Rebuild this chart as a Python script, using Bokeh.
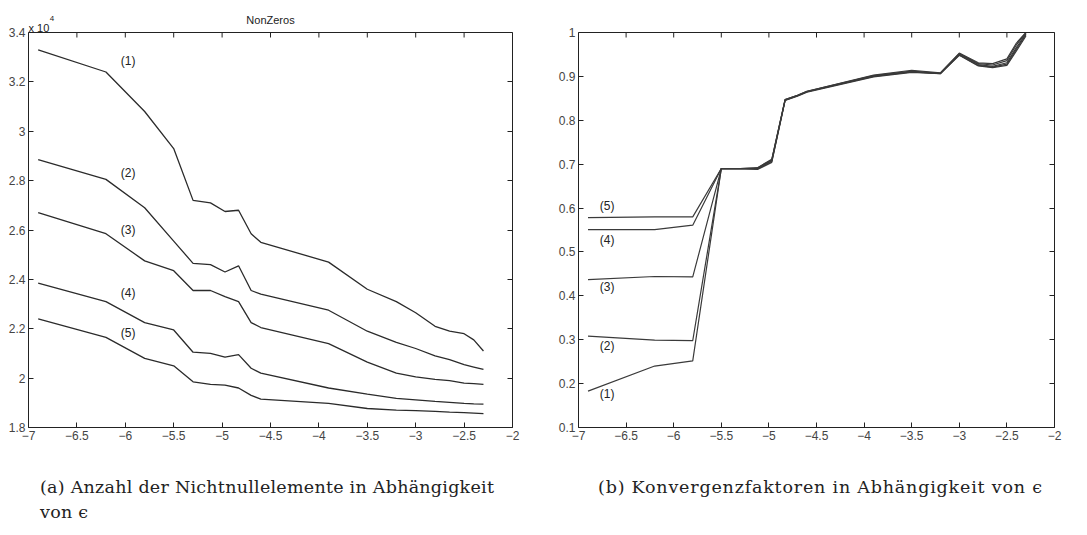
from bokeh.plotting import figure
from bokeh.models import FixedTicker, LinearAxis, Label, Div, Range1d, Span
from bokeh.layouts import row, column
from bokeh.embed import file_html
from bokeh.resources import INLINE

# ---------------- data ----------------
eps = [-6.9, -6.2, -5.8, -5.5, -5.3, -5.12, -4.97, -4.83, -4.7, -4.6,
       -3.9, -3.5, -3.2, -3.0, -2.8, -2.65, -2.5, -2.4, -2.3]

nnz_1 = [33300, 32400, 30800, 29300, 27200, 27100, 26750, 26800, 25850, 25500,
         24700, 23600, 23100, 22650, 22100, 21900, 21800, 21550, 21100]
nnz_2 = [28850, 28050, 26900, 25550, 24650, 24600, 24300, 24550, 23550, 23400,
         22750, 21900, 21450, 21200, 20900, 20750, 20550, 20450, 20350]
nnz_3 = [26700, 25850, 24750, 24350, 23550, 23550, 23300, 23100, 22250, 22050,
         21400, 20650, 20200, 20050, 19950, 19900, 19800, 19780, 19750]
nnz_4 = [23850, 23100, 22250, 21950, 21050, 21000, 20850, 20950, 20400, 20200,
         19600, 19350, 19180, 19120, 19060, 19020, 18980, 18960, 18950]
nnz_5 = [22400, 21650, 20800, 20500, 19850, 19750, 19720, 19600, 19300, 19150,
         18980, 18770, 18700, 18680, 18650, 18620, 18600, 18580, 18560]

conv_1 = [0.183, 0.240, 0.252, 0.690, 0.690, 0.688, 0.704, 0.845, 0.855, 0.864,
          0.899, 0.909, 0.906, 0.948, 0.924, 0.920, 0.925, 0.958, 0.992]
conv_2 = [0.308, 0.299, 0.298, 0.690, 0.690, 0.689, 0.706, 0.846, 0.856, 0.865,
          0.900, 0.910, 0.906, 0.949, 0.925, 0.921, 0.928, 0.962, 0.995]
conv_3 = [0.437, 0.444, 0.443, 0.690, 0.690, 0.690, 0.708, 0.846, 0.856, 0.865,
          0.901, 0.911, 0.907, 0.951, 0.927, 0.923, 0.931, 0.966, 0.997]
conv_4 = [0.551, 0.551, 0.561, 0.690, 0.690, 0.691, 0.710, 0.847, 0.857, 0.866,
          0.902, 0.912, 0.907, 0.952, 0.929, 0.926, 0.936, 0.972, 0.999]
conv_5 = [0.578, 0.580, 0.580, 0.690, 0.690, 0.692, 0.711, 0.847, 0.857, 0.866,
          0.903, 0.914, 0.908, 0.953, 0.931, 0.929, 0.940, 0.976, 1.000]

curve_names = ["(1)", "(2)", "(3)", "(4)", "(5)"]

x_ticks = [-7, -6.5, -6, -5.5, -5, -4.5, -4, -3.5, -3, -2.5, -2]
x_tick_labels = ["\u22127", "\u22126.5", "\u22126", "\u22125.5", "\u22125", "\u22124.5",
                 "\u22124", "\u22123.5", "\u22123", "\u22122.5", "\u22122"]
nnz_ticks = [18000, 20000, 22000, 24000, 26000, 28000, 30000, 32000, 34000]
nnz_tick_labels = ["1.8", "2", "2.2", "2.4", "2.6", "2.8", "3", "3.2", "3.4"]
conv_ticks = [0.1, 0.2, 0.3, 0.4, 0.5, 0.6, 0.7, 0.8, 0.9, 1.0]
conv_tick_labels = ["0.1", "0.2", "0.3", "0.4", "0.5", "0.6", "0.7", "0.8", "0.9", "1"]

# ---------------- styling / layout constants ----------------
LINE = "#2b2b2b"
AX = "#222222"
FONT = "Liberation Sans"
BOX_H = 395        # px height of the axes box
HEAD = 23          # px of frame kept above the box (room for the title texts)
TICK = 5           # inward tick length, px
X0, X1 = -7, -2


def build(width, border_left, border_right, y0, y1, yticks, ylabels):
    per_px = (y1 - y0) / BOX_H
    p = figure(width=width, height=455, output_backend="svg", toolbar_location=None,
               x_range=Range1d(X0, X1), y_range=Range1d(y0, y1 + HEAD * per_px),
               min_border_left=border_left, min_border_right=border_right,
               min_border_top=9, min_border_bottom=28)
    p.xaxis.ticker = FixedTicker(ticks=x_ticks)
    p.xaxis.major_label_overrides = dict(zip(x_ticks, x_tick_labels))
    p.yaxis.ticker = FixedTicker(ticks=yticks)
    p.yaxis.major_label_overrides = dict(zip(yticks, ylabels))
    p.yaxis.bounds = (y0, y1)
    right = LinearAxis(ticker=FixedTicker(ticks=yticks), bounds=(y0, y1),
                       major_label_text_color=None, major_label_text_font_size="1px",
                       major_label_standoff=0)
    p.add_layout(right, "right")
    for ax in p.xaxis + p.yaxis:
        ax.major_tick_in = TICK
        ax.major_tick_out = 0
        ax.minor_tick_line_color = None
        ax.axis_line_color = AX
        ax.major_tick_line_color = AX
        ax.major_label_text_font = FONT
        ax.major_label_text_font_size = "12px"
        ax.major_label_standoff = 3
    right.major_label_text_font_size = "1px"
    right.major_label_text_color = None
    right.major_label_standoff = 0
    # top edge of the box with inward ticks
    p.add_layout(Span(location=y1, dimension="width", line_color=AX, line_width=1))
    p.segment(x0=x_ticks, x1=x_ticks, y0=[y1] * len(x_ticks),
              y1=[y1 - TICK * per_px] * len(x_ticks), line_color=AX, line_width=1)
    p.grid.visible = False
    p.outline_line_color = None
    p.background_fill_color = "white"
    p.border_fill_color = "white"
    return p, per_px


# ---------------- left figure ----------------
pa, ka = build(533, 28, 21, 18000, 34000, nnz_ticks, nnz_tick_labels)
for ys in [nnz_1, nnz_2, nnz_3, nnz_4, nnz_5]:
    pa.line(eps, ys, line_color=LINE, line_width=1.3)

label_y_a = [32850, 28300, 25980, 23460, 21830]
for name, ly in zip(curve_names, label_y_a):
    pa.add_layout(Label(x=-5.97, y=ly, text=name, text_align="center",
                        text_baseline="middle", text_font=FONT,
                        text_font_size="12px", text_color="#222222"))

pa.add_layout(Label(x=-4.5, y=34000 + 13 * ka, text="NonZeros", text_align="center",
                    text_baseline="middle", text_font=FONT, text_font_size="11px",
                    text_color="#222222"))
pa.add_layout(Label(x=-7.0, y=34000 + 5 * ka, text="x 10", text_align="left",
                    text_baseline="middle", text_font=FONT, text_font_size="11px",
                    text_color="#222222"))
pa.add_layout(Label(x=-6.78, y=34000 + 14 * ka, text="4", text_align="left",
                    text_baseline="middle", text_font=FONT, text_font_size="8px",
                    text_color="#222222"))

# ---------------- right figure ----------------
pb, kb = build(541, 45, 20, 0.1, 1.0, conv_ticks, conv_tick_labels)
for ys in [conv_1, conv_2, conv_3, conv_4, conv_5]:
    pb.line(eps, ys, line_color="#3a3a3a", line_width=1.2)

label_y_b = [0.177, 0.285, 0.42, 0.527, 0.605]
for name, ly in zip(curve_names, label_y_b):
    pb.add_layout(Label(x=-6.7, y=ly, text=name, text_align="center",
                        text_baseline="middle", text_font=FONT,
                        text_font_size="12px", text_color="#222222"))

# ---------------- captions ----------------
cap_style = ("font-family:'DejaVu Serif';font-size:17.5px;line-height:25px;"
             "color:#222;white-space:nowrap;padding-top:15px;")
div_a = Div(text=f"<div style=\"{cap_style}padding-left:35px;letter-spacing:0.25px;\">"
                 "(a) Anzahl der Nichtnullelemente in Abhängigkeit<br>von \u03f5</div>",
            width=533, height=64)
div_b = Div(text=f"<div style=\"{cap_style}padding-left:50px;letter-spacing:0.8px;\">"
                 "(b) Konvergenzfaktoren in Abhängigkeit von \u03f5</div>",
            width=541, height=64)

layout = column(row(pa, pb), row(div_a, div_b))

open("out.html", "w").write(file_html(layout, INLINE))
